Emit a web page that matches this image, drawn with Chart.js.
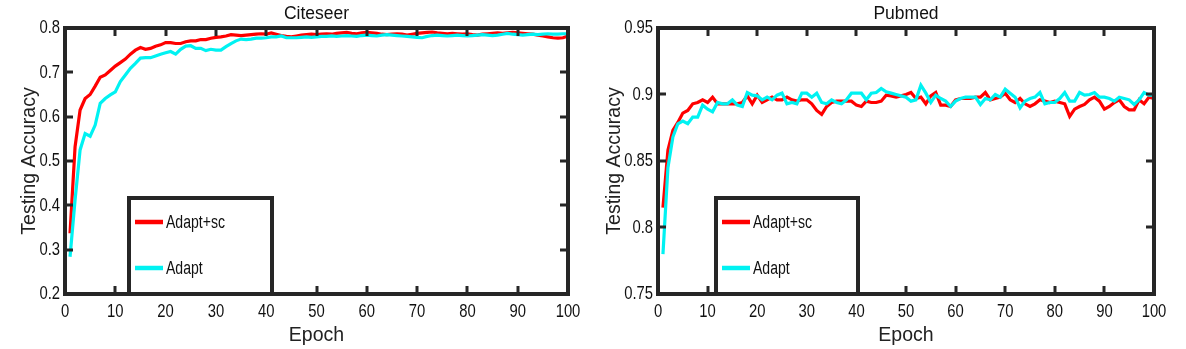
<!DOCTYPE html>
<html>
<head>
<meta charset="utf-8">
<script src="https://cdn.jsdelivr.net/npm/chart.js@4.4.1/dist/chart.umd.min.js"></script>
<style>
  body { margin: 0; background: #fff; }
  #wrap { position: relative; width: 1186px; height: 349px; }
  canvas { position: absolute; top: 0; }
</style>
</head>
<body>
<div id="wrap">
  <canvas id="citeseer" width="593" height="349" style="left:0"></canvas>
  <canvas id="pubmed" width="593" height="349" style="left:593px"></canvas>
</div>
<script>
// epochs on the x axis
const epochs = [1,2,3,4,5,6,7,8,9,10,11,12,13,14,15,16,17,18,19,20,
  21,22,23,24,25,26,27,28,29,30,31,32,33,34,35,36,37,38,39,40,
  41,42,43,44,45,46,47,48,49,50,51,52,53,54,55,56,57,58,59,60,
  61,62,63,64,65,66,67,68,69,70,71,72,73,74,75,76,77,78,79,80,
  81,82,83,84,85,86,87,88,89,90,91,92,93,94,95,96,97,98,99,100];

const seriesNames = ["Adapt+sc", "Adapt"];
const seriesColors = ["#ff0000", "#00f2f2"];

// Citeseer
const citeseerAdaptSc = [0.337,0.532,0.615,0.641,0.650,0.669,0.689,0.694,0.704,0.714,
  0.722,0.730,0.741,0.750,0.756,0.752,0.754,0.759,0.762,0.767,
  0.767,0.765,0.765,0.769,0.771,0.771,0.774,0.774,0.777,0.779,
  0.780,0.782,0.785,0.784,0.783,0.784,0.785,0.786,0.787,0.786,
  0.789,0.786,0.783,0.781,0.780,0.782,0.784,0.785,0.786,0.785,
  0.786,0.787,0.786,0.788,0.789,0.790,0.788,0.787,0.789,0.790,
  0.789,0.788,0.786,0.785,0.786,0.787,0.786,0.784,0.786,0.788,
  0.789,0.790,0.791,0.789,0.788,0.787,0.788,0.787,0.786,0.787,
  0.785,0.784,0.786,0.787,0.788,0.789,0.788,0.789,0.790,0.789,
  0.788,0.787,0.786,0.784,0.782,0.780,0.778,0.777,0.778,0.782];
const citeseerAdapt = [0.284,0.412,0.525,0.562,0.556,0.581,0.630,0.641,0.649,0.656,
  0.679,0.694,0.709,0.720,0.732,0.733,0.733,0.737,0.741,0.744,
  0.747,0.741,0.752,0.759,0.760,0.754,0.754,0.749,0.752,0.750,
  0.750,0.758,0.765,0.771,0.775,0.774,0.775,0.777,0.777,0.778,
  0.780,0.780,0.782,0.778,0.778,0.778,0.779,0.780,0.779,0.780,
  0.781,0.781,0.782,0.781,0.782,0.783,0.782,0.781,0.783,0.784,
  0.783,0.782,0.784,0.785,0.784,0.783,0.782,0.781,0.780,0.779,
  0.778,0.781,0.783,0.784,0.783,0.782,0.783,0.784,0.783,0.782,
  0.783,0.784,0.785,0.784,0.783,0.784,0.786,0.788,0.786,0.785,
  0.784,0.785,0.786,0.785,0.786,0.787,0.786,0.786,0.787,0.787];

// Pubmed
const pubmedAdaptSc = [0.815,0.858,0.873,0.879,0.886,0.888,0.893,0.894,0.896,0.894,
  0.898,0.893,0.893,0.893,0.893,0.893,0.894,0.899,0.893,0.8995,
  0.894,0.896,0.898,0.896,0.896,0.898,0.896,0.895,0.896,0.896,
  0.893,0.888,0.885,0.891,0.894,0.895,0.895,0.895,0.895,0.892,
  0.891,0.895,0.894,0.894,0.895,0.8995,0.899,0.898,0.899,0.900,
  0.9015,0.897,0.898,0.893,0.899,0.9015,0.892,0.892,0.891,0.896,
  0.897,0.897,0.897,0.898,0.898,0.9015,0.896,0.897,0.898,0.901,
  0.896,0.894,0.897,0.893,0.891,0.893,0.896,0.895,0.894,0.895,
  0.894,0.893,0.8835,0.889,0.891,0.8925,0.896,0.898,0.895,0.889,
  0.891,0.894,0.896,0.891,0.8885,0.8885,0.896,0.893,0.898,0.897];
const pubmedAdapt = [0.780,0.845,0.868,0.878,0.880,0.878,0.883,0.883,0.892,0.889,
  0.887,0.894,0.893,0.893,0.896,0.892,0.891,0.9015,0.8995,0.899,
  0.896,0.898,0.896,0.8995,0.901,0.893,0.894,0.893,0.901,0.901,
  0.898,0.901,0.894,0.893,0.896,0.894,0.893,0.896,0.901,0.901,
  0.901,0.896,0.901,0.9015,0.9045,0.902,0.901,0.900,0.899,0.898,
  0.895,0.896,0.907,0.901,0.894,0.8995,0.897,0.895,0.891,0.895,
  0.897,0.898,0.898,0.898,0.8925,0.897,0.896,0.900,0.898,0.904,
  0.901,0.898,0.890,0.895,0.897,0.898,0.9015,0.893,0.894,0.894,
  0.897,0.9015,0.895,0.895,0.9015,0.8995,0.900,0.9015,0.898,0.898,
  0.897,0.895,0.898,0.897,0.896,0.8925,0.896,0.9015,0.8995,0.8995];

const xTicks = [0,10,20,30,40,50,60,70,80,90,100];
const citeseerYTicks = [0.2,0.3,0.4,0.5,0.6,0.7,0.8];
const pubmedYTicks = [0.75,0.8,0.85,0.9,0.95];

const frameColor = "#262626";
const textColor = "#111";
// "Liberation Sans" text gets squeezed sideways (narrow look of the original),
// "Arial" text is drawn as is
const narrow = "'Liberation Sans'";
const regular = "Arial";
const squeeze = 0.78;

const condensedText = {
  id: "condensedText",
  beforeDraw(chart) {
    const ctx = chart.ctx;
    if (ctx._plainFill) return;
    ctx._plainFill = ctx.fillText;
    ctx.fillText = function (text, x, y, maxWidth) {
      if (!this.font.includes("Liberation Sans")) return this._plainFill(text, x, y, maxWidth);
      this.save();
      this.translate(x, y);
      this.scale(squeeze, 1);
      this._plainFill(text, 0, 0);
      this.restore();
    };
  }
};

// matlab style box: frame, inward ticks, legend box, title
const matlabFrame = {
  id: "matlabFrame",
  afterDraw(chart, args, opts) {
    const { ctx, chartArea: a, scales } = chart;
    ctx.save();
    ctx.strokeStyle = frameColor;
    ctx.lineWidth = 3;
    ctx.beginPath();
    scales.x.ticks.forEach(t => {
      const px = Math.round(scales.x.getPixelForValue(t.value));
      ctx.moveTo(px, a.bottom); ctx.lineTo(px, a.bottom - 8);
      ctx.moveTo(px, a.top); ctx.lineTo(px, a.top + 8);
    });
    scales.y.ticks.forEach(t => {
      const py = Math.round(scales.y.getPixelForValue(t.value));
      ctx.moveTo(a.left, py); ctx.lineTo(a.left + 8, py);
      ctx.moveTo(a.right, py); ctx.lineTo(a.right - 8, py);
    });
    ctx.stroke();

    // legend box
    const lg = opts.legend;
    const bx = a.left + lg.left, by = lg.top, bw = lg.width, bh = a.bottom - lg.top;
    ctx.fillStyle = "#fff";
    ctx.fillRect(bx, by, bw, bh);
    ctx.lineWidth = 4;
    ctx.strokeRect(bx, by, bw, bh);
    ctx.font = "18px " + narrow;
    ctx.textBaseline = "middle";
    ctx.textAlign = "left";
    chart.data.datasets.forEach((ds, i) => {
      const y = by + 24 + i * 46;
      ctx.strokeStyle = ds.borderColor;
      ctx.lineWidth = 4.5;
      ctx.beginPath();
      ctx.moveTo(bx + 6, y); ctx.lineTo(bx + 34, y);
      ctx.stroke();
      ctx.fillStyle = textColor;
      ctx.fillText(ds.label, bx + 37, y + 1);
    });

    ctx.strokeStyle = frameColor;
    ctx.lineWidth = 4;
    ctx.strokeRect(a.left, a.top, a.right - a.left, a.bottom - a.top);

    ctx.font = "17.5px " + regular;
    ctx.fillStyle = textColor;
    ctx.textAlign = "center";
    ctx.fillText(opts.title, (a.left + a.right) / 2, 14);
    ctx.restore();
  }
};

function makeChart(id, title, sc, plain, yTicks, yMin, yMax, padRight, yTitlePad, legend) {
  return new Chart(document.getElementById(id), {
    type: "line",
    data: {
      labels: epochs,
      datasets: [
        { label: seriesNames[0], data: sc, borderColor: seriesColors[0], order: 1 },
        { label: seriesNames[1], data: plain, borderColor: seriesColors[1], order: 0 }
      ]
    },
    options: {
      responsive: false,
      devicePixelRatio: 1,
      animation: false,
      elements: {
        line: { borderWidth: 3.2, tension: 0 },
        point: { radius: 0 }
      },
      layout: { padding: { left: 0, top: 28, right: padRight, bottom: 0 } },
      plugins: {
        legend: { display: false },
        tooltip: { enabled: false },
        matlabFrame: { title: title, legend: legend }
      },
      scales: {
        x: {
          type: "linear",
          min: 0, max: 100,
          afterBuildTicks: s => { s.ticks = xTicks.map(v => ({ value: v })); },
          afterFit: s => { s.height = 55; },
          grid: { display: false, drawTicks: false },
          border: { display: false },
          ticks: { padding: 6, color: textColor, font: { family: narrow, size: 19 }, maxRotation: 0 },
          title: { display: true, text: "Epoch", color: "#222",
                   font: { family: regular, size: 19.5 }, padding: { top: 0, bottom: 2 } }
        },
        y: {
          min: yMin, max: yMax,
          afterBuildTicks: s => { s.ticks = yTicks.map(v => ({ value: v })); },
          afterFit: s => { s.width = 65; },
          grid: { display: false, drawTicks: false },
          border: { display: false },
          ticks: { padding: 5, color: textColor, font: { family: narrow, size: 19 },
                   callback: v => String(v) },
          title: { display: true, text: "Testing Accuracy", color: "#222",
                   font: { family: regular, size: 19.5 }, padding: { top: yTitlePad, bottom: 0 } }
        }
      }
    },
    plugins: [condensedText, matlabFrame]
  });
}

makeChart("citeseer", "Citeseer", citeseerAdaptSc, citeseerAdapt, citeseerYTicks, 0.2, 0.8, 25, 18,
  { left: 64, top: 198, width: 143 });
makeChart("pubmed", "Pubmed", pubmedAdaptSc, pubmedAdapt, pubmedYTicks, 0.75, 0.95, 32, 10,
  { left: 58, top: 198, width: 142 });
</script>
</body>
</html>
